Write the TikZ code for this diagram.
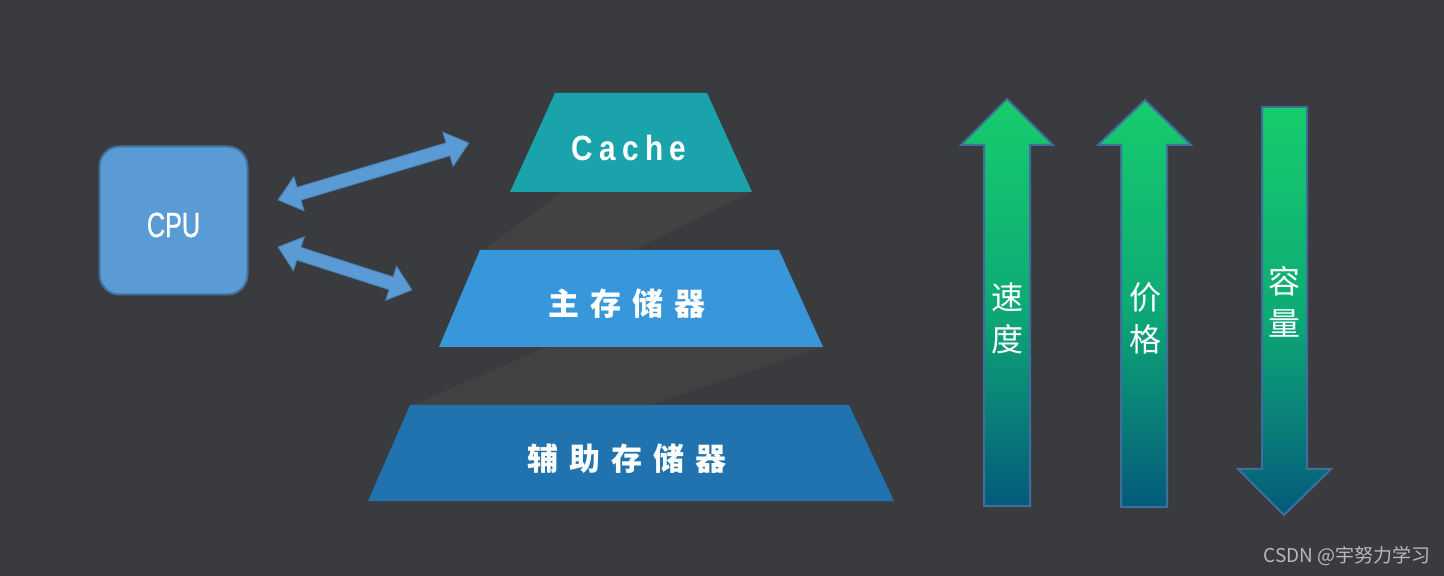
\documentclass[tikz,border=0pt]{standalone}
\usepackage{fontspec}
\setmainfont{Liberation Sans}
\newfontfamily\cjk{Noto Sans CJK SC}
\newfontfamily\cpufont[FakeStretch=0.72,FakeBold=0.6]{Liberation Sans}
\newfontfamily\cachefont[FakeStretch=0.85]{Liberation Sans}
\usetikzlibrary{calc}
\definecolor{bgc}{HTML}{3A3B3F}
\definecolor{shadowc}{HTML}{424242}
\definecolor{cpufill}{HTML}{5B9BD5}
\definecolor{cpuline}{HTML}{41719C}
\definecolor{cachec}{HTML}{1BA3AB}
\definecolor{mainc}{HTML}{3797DA}
\definecolor{auxc}{HTML}{2073AE}
\definecolor{gtop}{HTML}{16CC6C}
\definecolor{gmid}{HTML}{0EAB76}
\definecolor{gbot}{HTML}{045A7B}
\definecolor{vline}{HTML}{3F6E9C}
\definecolor{wmc}{HTML}{B8B8B8}
\newcommand\gp{\hspace{5.5pt}}
\newcommand\cg{\hspace{3.2pt}}
\newcommand\dblarrow[2]{%
  \path ($(#1)!11pt!(#2)$) coordinate (a1) ($(#2)!11pt!(#1)$) coordinate (b1);
  \filldraw[blockarrow]
    (#1) -- ($(a1)!9pt!90:(#2)$) -- ($(a1)!3.4pt!90:(#2)$)
    -- ($(b1)!3.4pt!-90:(#1)$) -- ($(b1)!9pt!-90:(#1)$) -- (#2)
    -- ($(b1)!9pt!90:(#1)$) -- ($(b1)!3.4pt!90:(#1)$)
    -- ($(a1)!3.4pt!-90:(#2)$) -- ($(a1)!9pt!-90:(#2)$) -- cycle;}
\tikzset{
  blockarrow/.style={fill=cpufill, draw=cpuline!80!cpufill, line width=0.4pt},
  shadowpoly/.style={fill=shadowc},
  trtext/.style={text=white, font=\cjk\bfseries\fontsize{15.5}{15.5}\selectfont, inner sep=0pt},
  vtext/.style={text=white, font=\cjk\fontsize{16}{16}\selectfont, inner sep=0pt},
  varrow/.style={top color=gtop, bottom color=gbot, middle color=gmid, draw=vline, line width=1pt},
}
\begin{document}
\begin{tikzpicture}[x=0.5pt,y=-0.5pt]
\fill[bgc] (0,0) rectangle (1444,576);
\useasboundingbox (0,0) rectangle (1444,576);

% shadows between the levels
\fill[shadowpoly] (563,192) -- (752,192) -- (633,250) -- (483,250) -- cycle;
\fill[shadowpoly] (547,347) -- (823,347) -- (650,405) -- (413,405) -- cycle;

% levels
\fill[cachec] (555,93) -- (707,93) -- (752,192) -- (510,192) -- cycle;
\fill[mainc] (480,250) -- (779,250) -- (823,347) -- (439,347) -- cycle;
\fill[auxc] (410,405) -- (849,405) -- (894,501) -- (368,501) -- cycle;

\node[text=white, inner sep=0pt, font=\cachefont\bfseries\fontsize{17.5}{17.5}\selectfont] (cache) at (629,148) {C\cg a\cg c\cg h\cg e};
\node[trtext] (main) at (627,304) {主\gp 存\gp 储\gp 器};
\node[trtext] (aux) at (627,459) {辅\gp 助\gp 存\gp 储\gp 器};

% CPU
\node[fill=cpufill, draw=cpuline, line width=1pt, rounded corners=10pt,
      minimum width=74pt, minimum height=74pt, inner sep=0pt, text=white,
      font=\cpufont\fontsize{17.5}{17.5}\selectfont] (cpu) at (173.5,220.5) {};
\node[text=white, inner sep=0pt, font=\cpufont\fontsize{17.5}{17.5}\selectfont] (cputext) at (173.5,225) {CPU};

% double arrows
\coordinate (u1) at (278,200);
\coordinate (u2) at (469,143);
\coordinate (l1) at (278,247);
\coordinate (l2) at (412,290);
\dblarrow{u1}{u2}
\dblarrow{l1}{l2}

% vertical arrows
\path[varrow] (1007,99) -- (1053,145) -- (1030,145) -- (1030,506) -- (984,506) -- (984,145) -- (961,145) -- cycle;
\path[varrow] (1145,100) -- (1191,145) -- (1167,145) -- (1167,507) -- (1121,507) -- (1121,145) -- (1098,145) -- cycle;
\path[varrow] (1262,107) -- (1307,107) -- (1307,469) -- (1331,469) -- (1284,515) -- (1238,469) -- (1262,469) -- cycle;

\node[vtext] (s1) at (1007,297) {速};
\node[vtext] (s2) at (1007,339) {度};
\node[vtext] (p1) at (1145,297) {价};
\node[vtext] (p2) at (1145,339) {格};
\node[vtext] (c1) at (1284,281) {容};
\node[vtext] (c2) at (1284,323) {量};

% watermark
\node[anchor=east, text=wmc, inner sep=0pt, font=\cjk\fontsize{9.5}{9.5}\selectfont] (wm) at (1431,556) {CSDN @宇努力学习};
\end{tikzpicture}
\end{document}
